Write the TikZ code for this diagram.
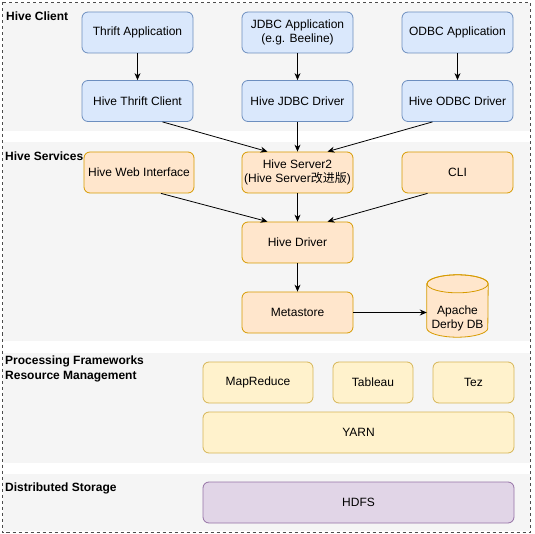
\documentclass[tikz,border=0pt]{standalone}
\usepackage{fontspec}
\setmainfont{Liberation Sans}
\newfontfamily\cjkfont{Noto Sans CJK SC}
\usepackage{xcolor}
\usetikzlibrary{shapes.geometric, arrows.meta}

\definecolor{bandgray}{HTML}{F5F5F5}
\definecolor{clientfill}{HTML}{DAE8FC}
\definecolor{clientline}{HTML}{6C8EBF}
\definecolor{servfill}{HTML}{FFE6CC}
\definecolor{servline}{HTML}{D79B00}
\definecolor{procfill}{HTML}{FFF2CC}
\definecolor{procline}{HTML}{D6B656}
\definecolor{storefill}{HTML}{E1D5E7}
\definecolor{storeline}{HTML}{9673A6}

\begin{document}
\begin{tikzpicture}[
  x=1pt, y=-1pt,
  box/.style={rectangle, rounded corners=6pt, draw, line width=0.8pt, minimum width=111pt, minimum height=41pt, inner sep=1pt, align=center, font=\fontsize{12}{14}\selectfont},
  client/.style={box, fill=clientfill, draw=clientline},
  service/.style={box, fill=servfill, draw=servline},
  frame/.style={box, fill=procfill, draw=procline},
  storage/.style={box, fill=storefill, draw=storeline},
  band/.style={fill=bandgray, draw=none},
  layer label/.style={anchor=base west, inner sep=0pt, font=\bfseries\fontsize{12}{14}\selectfont},
  flow/.style={->, line width=0.8pt},
  >={Stealth[length=7pt, width=6pt]}
]
  \useasboundingbox (0,0) rectangle (535,534);

  % Layer bands and outer frame
  \fill[band] (3,3) rectangle (530,131);
  \fill[band] (3,142) rectangle (530,341);
  \fill[band] (3,353) rectangle (530,463);
  \fill[band] (3,474) rectangle (530,531);
  \draw[dashed, black!70, line width=0.6pt] (2.5,2.5) rectangle (530,532.5);

  % Layer labels
  \node[layer label] (lclient) at (6,20.5)  {Hive Client};
  \node[layer label] (lserv)   at (5,160.5) {Hive Services};
  \node[layer label] (lproc)   at (5,364)   {Processing Frameworks};
  \node[layer label] (lres)    at (5,379)   {Resource Management};
  \node[layer label] (lstore)  at (5,491.5) {Distributed Storage};

  % Hive client
  \node[client] (tapp)    at (137.5,32.5) {Thrift Application};
  \node[client] (japp)    at (297.5,32.5) {JDBC Application\\(e.g. Beeline)};
  \node[client] (oapp)    at (457.5,32.5) {ODBC Application};
  \node[client] (tclient) at (137.5,101)  {Hive Thrift Client};
  \node[client] (jdriver) at (297.5,101)  {Hive JDBC Driver};
  \node[client] (odriver) at (457.5,101)  {Hive ODBC Driver};

  % Hive services
  \node[service, minimum width=110pt] (web) at (139,172.5) {Hive Web Interface};
  \node[service] (hs2)    at (297.5,172.5) {Hive Server2\\({Hive Server\cjkfont 改进版})};
  \node[service] (cli)    at (457.5,172.5) {CLI};
  \node[service] (driver) at (297.5,242.5) {Hive Driver};
  \node[service] (meta)   at (297.5,312.5) {Metastore};

  % Derby database (cylinder drawn round its node)
  \node[minimum width=61pt, minimum height=62pt, inner sep=0pt] (derby) at (457.5,306) {};
  \filldraw[draw=servline, fill=servfill, line width=0.8pt]
    ([yshift=-9pt]derby.north west) -- ([yshift=9pt]derby.south west)
    arc[start angle=180, end angle=0, x radius=30.5, y radius=9]
    -- ([yshift=-9pt]derby.north east)
    arc[start angle=0, end angle=-180, x radius=30.5, y radius=9] -- cycle;
  \draw[draw=servline, line width=0.8pt] ([yshift=-9pt]derby.north) ellipse[x radius=30.5, y radius=9];
  \node[align=center, inner sep=0pt, font=\fontsize{12}{14}\selectfont] (derbytext) at (457.5,318) {Apache\\Derby DB};

  % Processing frameworks and storage
  \node[frame, minimum width=110pt] (mr)   at (258,382.5)   {MapReduce};
  \node[frame, minimum width=80pt]  (tab)  at (373,382.5)   {Tableau};
  \node[frame, minimum width=81pt]  (tez)  at (473.5,382.5) {Tez};
  \node[frame, minimum width=311pt] (yarn) at (358.5,432.5) {YARN};
  \node[storage, minimum width=311pt] (hdfs) at (358.5,502.5) {HDFS};

  % Connections
  \draw[flow] (tapp) -- (tclient);
  \draw[flow] (japp) -- (jdriver);
  \draw[flow] (oapp) -- (odriver);
  \draw[flow] ([xshift=25pt]tclient.south) -- ([xshift=-30pt]hs2.north);
  \draw[flow] (jdriver) -- (hs2);
  \draw[flow] ([xshift=-25pt]odriver.south) -- ([xshift=30pt]hs2.north);
  \draw[flow] ([xshift=22pt]web.south) -- ([xshift=-30pt]driver.north);
  \draw[flow] (hs2) -- (driver);
  \draw[flow] ([xshift=-30pt]cli.south) -- ([xshift=30pt]driver.north);
  \draw[flow] (driver) -- (meta);
  \draw[flow] (meta) -- (meta -| derby.west);
\end{tikzpicture}
\end{document}
